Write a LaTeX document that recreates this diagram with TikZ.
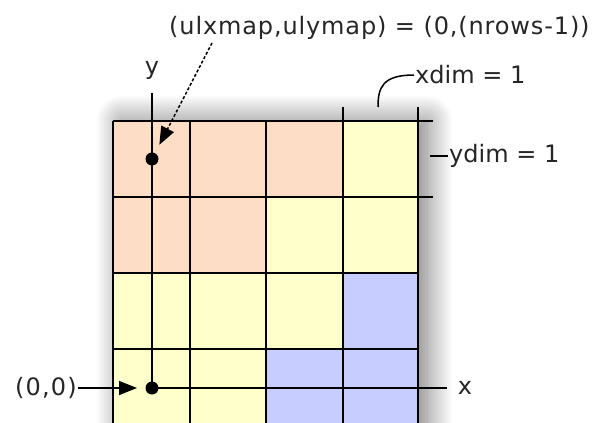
\documentclass[tikz,border=0pt]{standalone}
\usepackage{fontspec}
\usetikzlibrary{positioning,arrows.meta,shadows.blur}
\newfontfamily\labelfont{DejaVu Sans}
\definecolor{cellpeach}{RGB}{253,221,197}
\definecolor{cellyellow}{RGB}{255,255,204}
\definecolor{cellblue}{RGB}{200,205,255}
\tikzset{
  gridline/.style={line width=2.2pt},
  axisline/.style={line width=2pt},
  leader/.style={line width=1.5pt},
  pointer/.style={-{Triangle[length=18pt, width=14pt, fill=black]}, line width=1.5pt},
  dotnode/.style={circle, fill=black, inner sep=0pt, minimum size=13pt},
  lbl/.style={font=\labelfont\fontsize{24}{28}\selectfont, inner sep=1pt, text=black!85}
}

\begin{document}
\begin{tikzpicture}[x=1pt, y=-1pt]
  \useasboundingbox (0,0) rectangle (608,423);
  % cells with the soft shadow round them
  \fill[cellyellow, blur shadow={shadow xshift=9pt, shadow yshift=0pt, shadow blur radius=26pt,
      shadow blur steps=20, shadow opacity=55}]
    (113,121) rectangle (418,440);
  \fill[cellpeach] (113,121) -- (343,121) -- (343,197) -- (266,197) -- (266,273) -- (113,273) -- cycle;
  \fill[cellblue] (343,273) -- (418,273) -- (418,440) -- (266,440) -- (266,349) -- (343,349) -- cycle;
  % grid lines and ticks
  \draw[gridline] (113,121) -- (113,440) (190,121) -- (190,440) (266,121) -- (266,440)
    (343,107) -- (343,440) (418,107) -- (418,440);
  \draw[gridline] (113,121) -- (433,121) (113,197) -- (433,197)
    (113,273) -- (418,273) (113,349) -- (418,349);

  \node[dotnode] (ul) at (152,159) {};
  \node[dotnode] (o) at (152,388) {};
  \coordinate (ytop) at (152,93);
  \coordinate (xend) at (447,388);
  \draw[axisline] (ytop) -- (o.center);
  \draw[axisline] (o.center) -- (xend);

  \node[lbl] (ylab) at (152,70) {y};
  \node[lbl] (xlab) at (465,388) {x};
  \node[lbl, anchor=east] (origin) at (78,388) {\addfontfeature{LetterSpace=5}(0,0)};
  \node[lbl, anchor=west] (ulxmap) at (168,28) {\addfontfeature{LetterSpace=3.6}(ulxmap,ulymap) = (0,(nrows-1))};
  \node[lbl, anchor=west] (xdim) at (414,75) {xdim = 1};
  \node[lbl, anchor=west] (ydim) at (448,156) {ydim = 1};

  \coordinate (ulfoot) at (212,43);
  \coordinate (xdimfoot) at (378,107);
  \coordinate (ydimfoot) at (430,156);
  \draw[pointer, dash pattern=on 3pt off 2pt, shorten >=16pt] (ulfoot) -- (ul.center);
  \draw[pointer, shorten >=15pt] (origin.east) -- (o.center);
  \draw[leader] (xdimfoot) .. controls (378,88) and (382,75) .. (xdim.west);
  \draw[leader] (ydimfoot) -- (ydim.west);
\end{tikzpicture}
\end{document}
